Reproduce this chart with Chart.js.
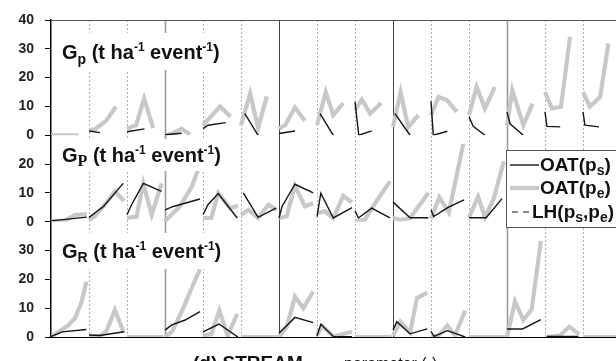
<!DOCTYPE html>
<html>
<head>
<meta charset="utf-8">
<script src="https://cdn.jsdelivr.net/npm/chart.js@4.4.1/dist/chart.umd.min.js"></script>
<style>
  html, body { margin: 0; padding: 0; background: #fff; overflow: hidden; width: 616px; height: 361px; }
  #wrap { position: absolute; left: 0; top: 0; width: 640px; height: 380px; }
</style>
</head>
<body>
<div id="wrap"><canvas id="c"></canvas></div>
<script>
// 15 parameter groups along x; each point is [position within group, value]
const groupCount = 15;

// tick labels of the three stacked panels
const topTicks = [0, 10, 20, 30, 40];
const midTicks = [0, 10, 20];
const botTicks = [0, 10, 20, 30];
const topMax = 40, midMax = 30, botMax = 40;

// G_p panel
const topPs = [
  null,
  [[0, 1.5], [0.29, 0.9]],
  [[0, 1.2], [0.46, 2.2]],
  [[0, 0.2], [0.44, 0.7]],
  [[0, 2.3], [0.13, 3.5], [0.6, 4.4]],
  [[0.1, 7.5], [0.45, 0]],
  [[0, 0.6], [0.42, 1.5]],
  [[0.08, 7.5], [0.43, 0]],
  [[0, 11.6], [0.1, 0], [0.44, 1.5]],
  [[0.05, 7.5], [0.45, 0]],
  [[0, 11.8], [0.06, 0], [0.43, 1.4]],
  [[0, 6.4], [0.11, 3.1], [0.42, 0]],
  [[0, 8.1], [0.08, 4], [0.43, 0]],
  [[0, 8.1], [0.05, 3.1], [0.4, 2.9]],
  [[0, 8.1], [0.05, 3.5], [0.42, 2.9]]
];
const topPe = [
  [[0, 0], [0.72, 0]],
  [[0, 1.7], [0.16, 2.1], [0.45, 5], [0.71, 10]],
  [[0, 2.3], [0.24, 3.5], [0.45, 12.8], [0.69, 2.5]],
  [[0, 0], [0.23, 0.8], [0.44, 2.3], [0.66, 0.2]],
  [[0, 3.5], [0.45, 10], [0.72, 6.5]],
  [[0, 3.5], [0.24, 14.5], [0.45, 2.5], [0.68, 13.5]],
  [[0, 2.3], [0.16, 3.5], [0.42, 9.6], [0.68, 5]],
  [[0, 3.5], [0.23, 15], [0.43, 7], [0.69, 11.2]],
  [[0, 8.7], [0.18, 12.4], [0.4, 7.5], [0.69, 11.2]],
  [[0, 2.9], [0.2, 15], [0.4, 2.9], [0.67, 7]],
  [[0, 7], [0.2, 13.3], [0.42, 12.2], [0.68, 8.1]],
  [[0, 7], [0.2, 16.8], [0.42, 9.3], [0.68, 16.8]],
  [[0, 3.5], [0.14, 15.6], [0.43, 3.5], [0.67, 11]],
  [[0, 15], [0.18, 9.3], [0.42, 9.9], [0.66, 34.2]],
  [[0, 15], [0.18, 9.9], [0.45, 13.3], [0.67, 31.9]]
];

// G_P panel
const midPs = [
  [[0, 0.3], [0.94, 1.6]],
  [[0, 1.5], [0.38, 5.3], [0.9, 13.3]],
  [[0, 2.4], [0.12, 5.9], [0.43, 13.3], [0.91, 10.5]],
  [[0, 4.1], [0.22, 5.3], [0.92, 7.9]],
  [[0, 2.4], [0.13, 5.9], [0.4, 9.8], [0.9, 1.3]],
  [[0.06, 10], [0.45, 1.5], [0.92, 4.7]],
  [[0, 1.2], [0.08, 5.3], [0.42, 13], [0.9, 10]],
  [[0, 1.8], [0.1, 9.9], [0.43, 1.3], [0.92, 4.9]],
  [[0, 3.8], [0.09, 1.3], [0.44, 4.7], [0.92, 1.3]],
  [[0, 6.8], [0.45, 1.4], [0.93, 1.4]],
  [[0, 4.1], [0.07, 1.8], [0.45, 5], [0.87, 7.6]],
  [[0, 1.4], [0.45, 1.4], [0.87, 8]],
  null, null, null
];
const midPe = [
  [[0, 0.3], [0.37, 0.3], [0.63, 2.4], [0.94, 2.6]],
  [[0, 0.5], [0.16, 2], [0.42, 6], [0.68, 10.5], [0.92, 7.3]],
  [[0, 1.3], [0.25, 1.8], [0.43, 13.3], [0.65, 2.4], [0.91, 13.3]],
  [[0, 0.2], [0.39, 5.3], [0.7, 12], [0.95, 21]],
  [[0, 1.3], [0.22, 1.3], [0.4, 10], [0.71, 4.7], [0.92, 5.5]],
  [[0, 2.4], [0.2, 4.1], [0.45, 1.3], [0.72, 5.9], [0.94, 4.1]],
  [[0, 1.3], [0.2, 1.8], [0.42, 12.5], [0.68, 5.3], [0.9, 6.4]],
  [[0, 3], [0.21, 3.6], [0.43, 1.3], [0.69, 9], [0.92, 6.7]],
  [[0, 0.1], [0.26, 0.7], [0.6, 7.8], [0.92, 14]],
  [[0, 1.3], [0.2, 0.7], [0.45, 1.3], [0.93, 10]],
  [[0, 1], [0.22, 8.5], [0.47, 3.2], [0.85, 27]],
  [[0, 1.5], [0.24, 8.7], [0.42, 1.5], [0.65, 8], [0.92, 21]],
  null, null, null
];

// G_R panel
const botPs = [
  [[0, 0.2], [0.3, 1.8], [0.93, 2.6]],
  [[0, 0.7], [0.29, 0.5], [0.92, 1.8]],
  null,
  [[0, 2.4], [0.18, 4.2], [0.53, 5.9], [0.92, 8.8]],
  [[0, 1.8], [0.42, 4.5], [0.92, 0]],
  null,
  [[0, 1.3], [0.42, 6.8], [0.9, 5]],
  [[0, 0.3], [0.1, 4.4], [0.43, 0.2], [0.92, 0.1]],
  null,
  [[0, 2.4], [0.1, 5.3], [0.45, 1.1], [0.9, 2.8]],
  [[0, 2], [0.08, 0.2], [0.43, 2.2], [0.9, 0]],
  null,
  [[0, 2.8], [0.41, 2.8], [0.89, 6]],
  [[0.05, 0.2], [0.88, 0.2]],
  null
];
const botPe = [
  [[0, 0], [0.45, 4], [0.63, 6.5], [0.8, 12], [0.93, 19.2]],
  [[0, 0], [0.29, 0.4], [0.46, 2], [0.68, 9.4], [0.92, 1.5]],
  [[0, 0], [0.96, 0]],
  [[0, 0], [0.18, 1.8], [0.44, 8.8], [0.7, 16.9], [0.92, 23.5]],
  [[0, 0.5], [0.22, 1], [0.43, 9.2], [0.65, 0.5], [0.9, 8]],
  [[0, 0], [0.96, 0]],
  [[0, 0], [0.21, 3.6], [0.42, 14], [0.64, 10], [0.9, 15.8]],
  [[0, 0.7], [0.14, 3.8], [0.43, 0.2], [0.92, 1.8]],
  [[0, 0], [0.96, 0]],
  [[0, 0.5], [0.19, 5.3], [0.45, 1.5], [0.63, 13.5], [0.9, 15.4]],
  [[0, 0], [0.2, 0.5], [0.43, 4], [0.63, 0.5], [0.9, 9.2]],
  [[0, 0], [0.96, 0]],
  [[0, 0], [0.21, 12.3], [0.43, 5.9], [0.65, 9.6], [0.89, 33.3]],
  [[0, 0], [0.39, 0.5], [0.64, 3.6], [0.9, 1]],
  [[0, 0], [0.96, 0]]
];

const SANS = '"Liberation Sans", Arial, Helvetica, sans-serif';
const SERIF = '"Liberation Serif", "Times New Roman", serif';
const BLACK = '#151515';
const GREY = '#c8c8c8';

// flatten grouped points into one series, breaking the line between groups
function series(groups) {
  const pts = [];
  groups.forEach((grp, g) => {
    if (!grp) return;
    grp.forEach(([f, v]) => pts.push({ x: g + f, y: v }));
    pts.push({ x: g + 0.99, y: null });
  });
  return pts;
}

function lineSet(label, groups, axis, isPs) {
  return {
    label,
    data: series(groups),
    yAxisID: axis,
    borderColor: isPs ? BLACK : GREY,
    borderWidth: isPs ? 1.4 : 4.2,
    pointRadius: 0,
    tension: 0,
    spanGaps: false
  };
}

function drawRich(ctx, x, y, parts) {
  let cx = x;
  for (const p of parts) {
    ctx.font = p.font;
    ctx.fillText(p.t, cx, y + (p.dy || 0));
    cx += ctx.measureText(p.t).width;
  }
  return cx;
}

const big = 'bold 20px ' + SANS;
const sub = 'bold 14px ' + SANS;
const sup = 'bold 12px ' + SANS;
const legBig = 'bold 19px ' + SANS;
const legSub = 'bold 14px ' + SANS;

function unitParts(head) {
  return head.concat([
    { t: ' (t ha', font: big },
    { t: '-1', font: sup, dy: -8 },
    { t: ' event', font: big },
    { t: '-1', font: sup, dy: -8 },
    { t: ')', font: big }
  ]);
}

const panelTitles = [
  { box: [57, 33, 178, 37], parts: unitParts([{ t: 'G', font: big }, { t: 'p', font: sub, dy: 5 }]) },
  { box: [57, 139, 178, 32], parts: unitParts([{ t: 'G', font: big }, { t: 'P', font: 'bold 16px ' + SERIF, dy: 4 }]) },
  { box: [57, 233, 178, 36], parts: unitParts([{ t: 'G', font: big }, { t: 'R', font: sub, dy: 4 }]) }
];

// vertical group separators and the top frame line
const separators = {
  id: 'separators',
  beforeDatasetsDraw(chart) {
    const { ctx, chartArea: a, scales: { x } } = chart;
    ctx.save();
    for (let g = 1; g < groupCount; g++) {
      const px = Math.round(x.getPixelForValue(g)) + 0.5;
      ctx.beginPath();
      if (g % 3 === 0) {
        const soft = (g === 3 || g === 12);
        ctx.strokeStyle = soft ? '#9a9a9a' : '#444';
        ctx.lineWidth = soft ? 1.6 : 1;
        ctx.setLineDash([]);
      } else {
        ctx.strokeStyle = '#b0b0b0';
        ctx.lineWidth = 1;
        ctx.setLineDash([2, 2]);
      }
      ctx.moveTo(px, a.top);
      ctx.lineTo(px, a.bottom);
      ctx.stroke();
    }
    ctx.setLineDash([]);
    ctx.strokeStyle = '#555';
    ctx.lineWidth = 1;
    ctx.beginPath();
    ctx.moveTo(a.left, a.top + 0.5);
    ctx.lineTo(a.right, a.top + 0.5);
    ctx.stroke();
    ctx.restore();
  }
};

// panel titles in white boxes, the legend box and the axis caption
const annotations = {
  id: 'annotations',
  afterDatasetsDraw(chart) {
    const { ctx } = chart;
    ctx.save();
    ctx.textBaseline = 'alphabetic';
    ctx.textAlign = 'left';
    for (const p of panelTitles) {
      const [bx, by, bw, bh] = p.box;
      ctx.fillStyle = '#fff';
      ctx.fillRect(bx, by, bw, bh);
      ctx.fillStyle = '#111';
      drawRich(ctx, 62, by + bh / 2 + 7, p.parts);
    }

    // legend
    const lx = 506.5, ly = 150.5, lw = 140, lh = 77;
    ctx.fillStyle = '#fff';
    ctx.fillRect(lx, ly, lw, lh);
    ctx.strokeStyle = '#555';
    ctx.lineWidth = 1;
    ctx.strokeRect(lx, ly, lw, lh);
    const ds = chart.data.datasets;
    const rows = [
      { set: ds[0], y: 165, parts: [{ t: 'OAT(p', font: legBig }, { t: 's', font: legSub, dy: 4 }, { t: ')', font: legBig }] },
      { set: ds[1], y: 188, parts: [{ t: 'OAT(p', font: legBig }, { t: 'e', font: legSub, dy: 4 }, { t: ')', font: legBig }] },
      { set: ds[6], y: 212, parts: [{ t: 'LH(p', font: legBig }, { t: 's', font: legSub, dy: 4 }, { t: ',p', font: legBig }, { t: 'e', font: legSub, dy: 4 }, { t: ')', font: legBig }] }
    ];
    for (const r of rows) {
      ctx.beginPath();
      ctx.strokeStyle = r.set.borderColor;
      ctx.lineWidth = r.set.borderWidth;
      ctx.setLineDash(r.set.borderDash || []);
      const x0 = r.set.borderDash ? 512 : 510;
      const x1 = r.set.borderDash ? 531 : 539;
      ctx.moveTo(x0, r.y);
      ctx.lineTo(x1, r.y);
      ctx.stroke();
      ctx.setLineDash([]);
      ctx.fillStyle = '#111';
      drawRich(ctx, r.set.borderDash ? 532 : 540, r.y + 6, r.parts);
    }

    // x-axis caption
    ctx.fillStyle = '#111';
    ctx.font = 'bold 19px ' + SANS;
    ctx.fillText('(d) STREAM', 193, 369);
    ctx.font = '16px ' + SANS;
    ctx.fillText('parameter (-)', 344, 369);
    ctx.restore();
  }
};

function yAxis(max, ticks, weight) {
  return {
    type: 'linear',
    position: 'left',
    stack: 'panels',
    stackWeight: weight,
    min: 0,
    max: max,
    afterBuildTicks(scale) { scale.ticks = ticks.map(v => ({ value: v })); },
    afterFit(scale) { scale.width = 51; },
    grid: { display: true, drawOnChartArea: false, drawTicks: true, tickLength: 6, color: '#000', lineWidth: 1 },
    border: { display: true, color: '#000', width: 1.5 },
    ticks: { autoSkip: false, padding: 11, color: '#222', font: { family: SANS, size: 14, weight: 'bold' } }
  };
}

new Chart(document.getElementById('c'), {
  type: 'line',
  data: {
    datasets: [
      lineSet('OAT(ps)', topPs, 'yTop', true),
      lineSet('OAT(pe)', topPe, 'yTop', false),
      lineSet('OAT(ps)', midPs, 'yMid', true),
      lineSet('OAT(pe)', midPe, 'yMid', false),
      lineSet('OAT(ps)', botPs, 'yBot', true),
      lineSet('OAT(pe)', botPe, 'yBot', false),
      { label: 'LH(ps,pe)', data: [], yAxisID: 'yTop', borderColor: BLACK, borderWidth: 1, borderDash: [6, 5], pointRadius: 0 }
    ]
  },
  options: {
    responsive: true,
    maintainAspectRatio: false,
    animation: false,
    events: [],
    layout: { padding: { left: 0, right: 19, top: 20, bottom: 0 } },
    plugins: { legend: { display: false }, tooltip: { enabled: false } },
    scales: {
      x: {
        type: 'linear',
        min: 0,
        max: groupCount,
        afterFit(scale) { scale.height = 43; },
        grid: { display: false },
        border: { display: true, color: '#000', width: 1 },
        ticks: { display: false }
      },
      // stacked left axes are placed top-down starting from the last one defined
      yBot: yAxis(botMax, botTicks, botMax),
      yMid: yAxis(midMax, midTicks, midMax),
      yTop: yAxis(topMax, topTicks, topMax)
    }
  },
  plugins: [separators, annotations]
});
</script>
</body>
</html>
